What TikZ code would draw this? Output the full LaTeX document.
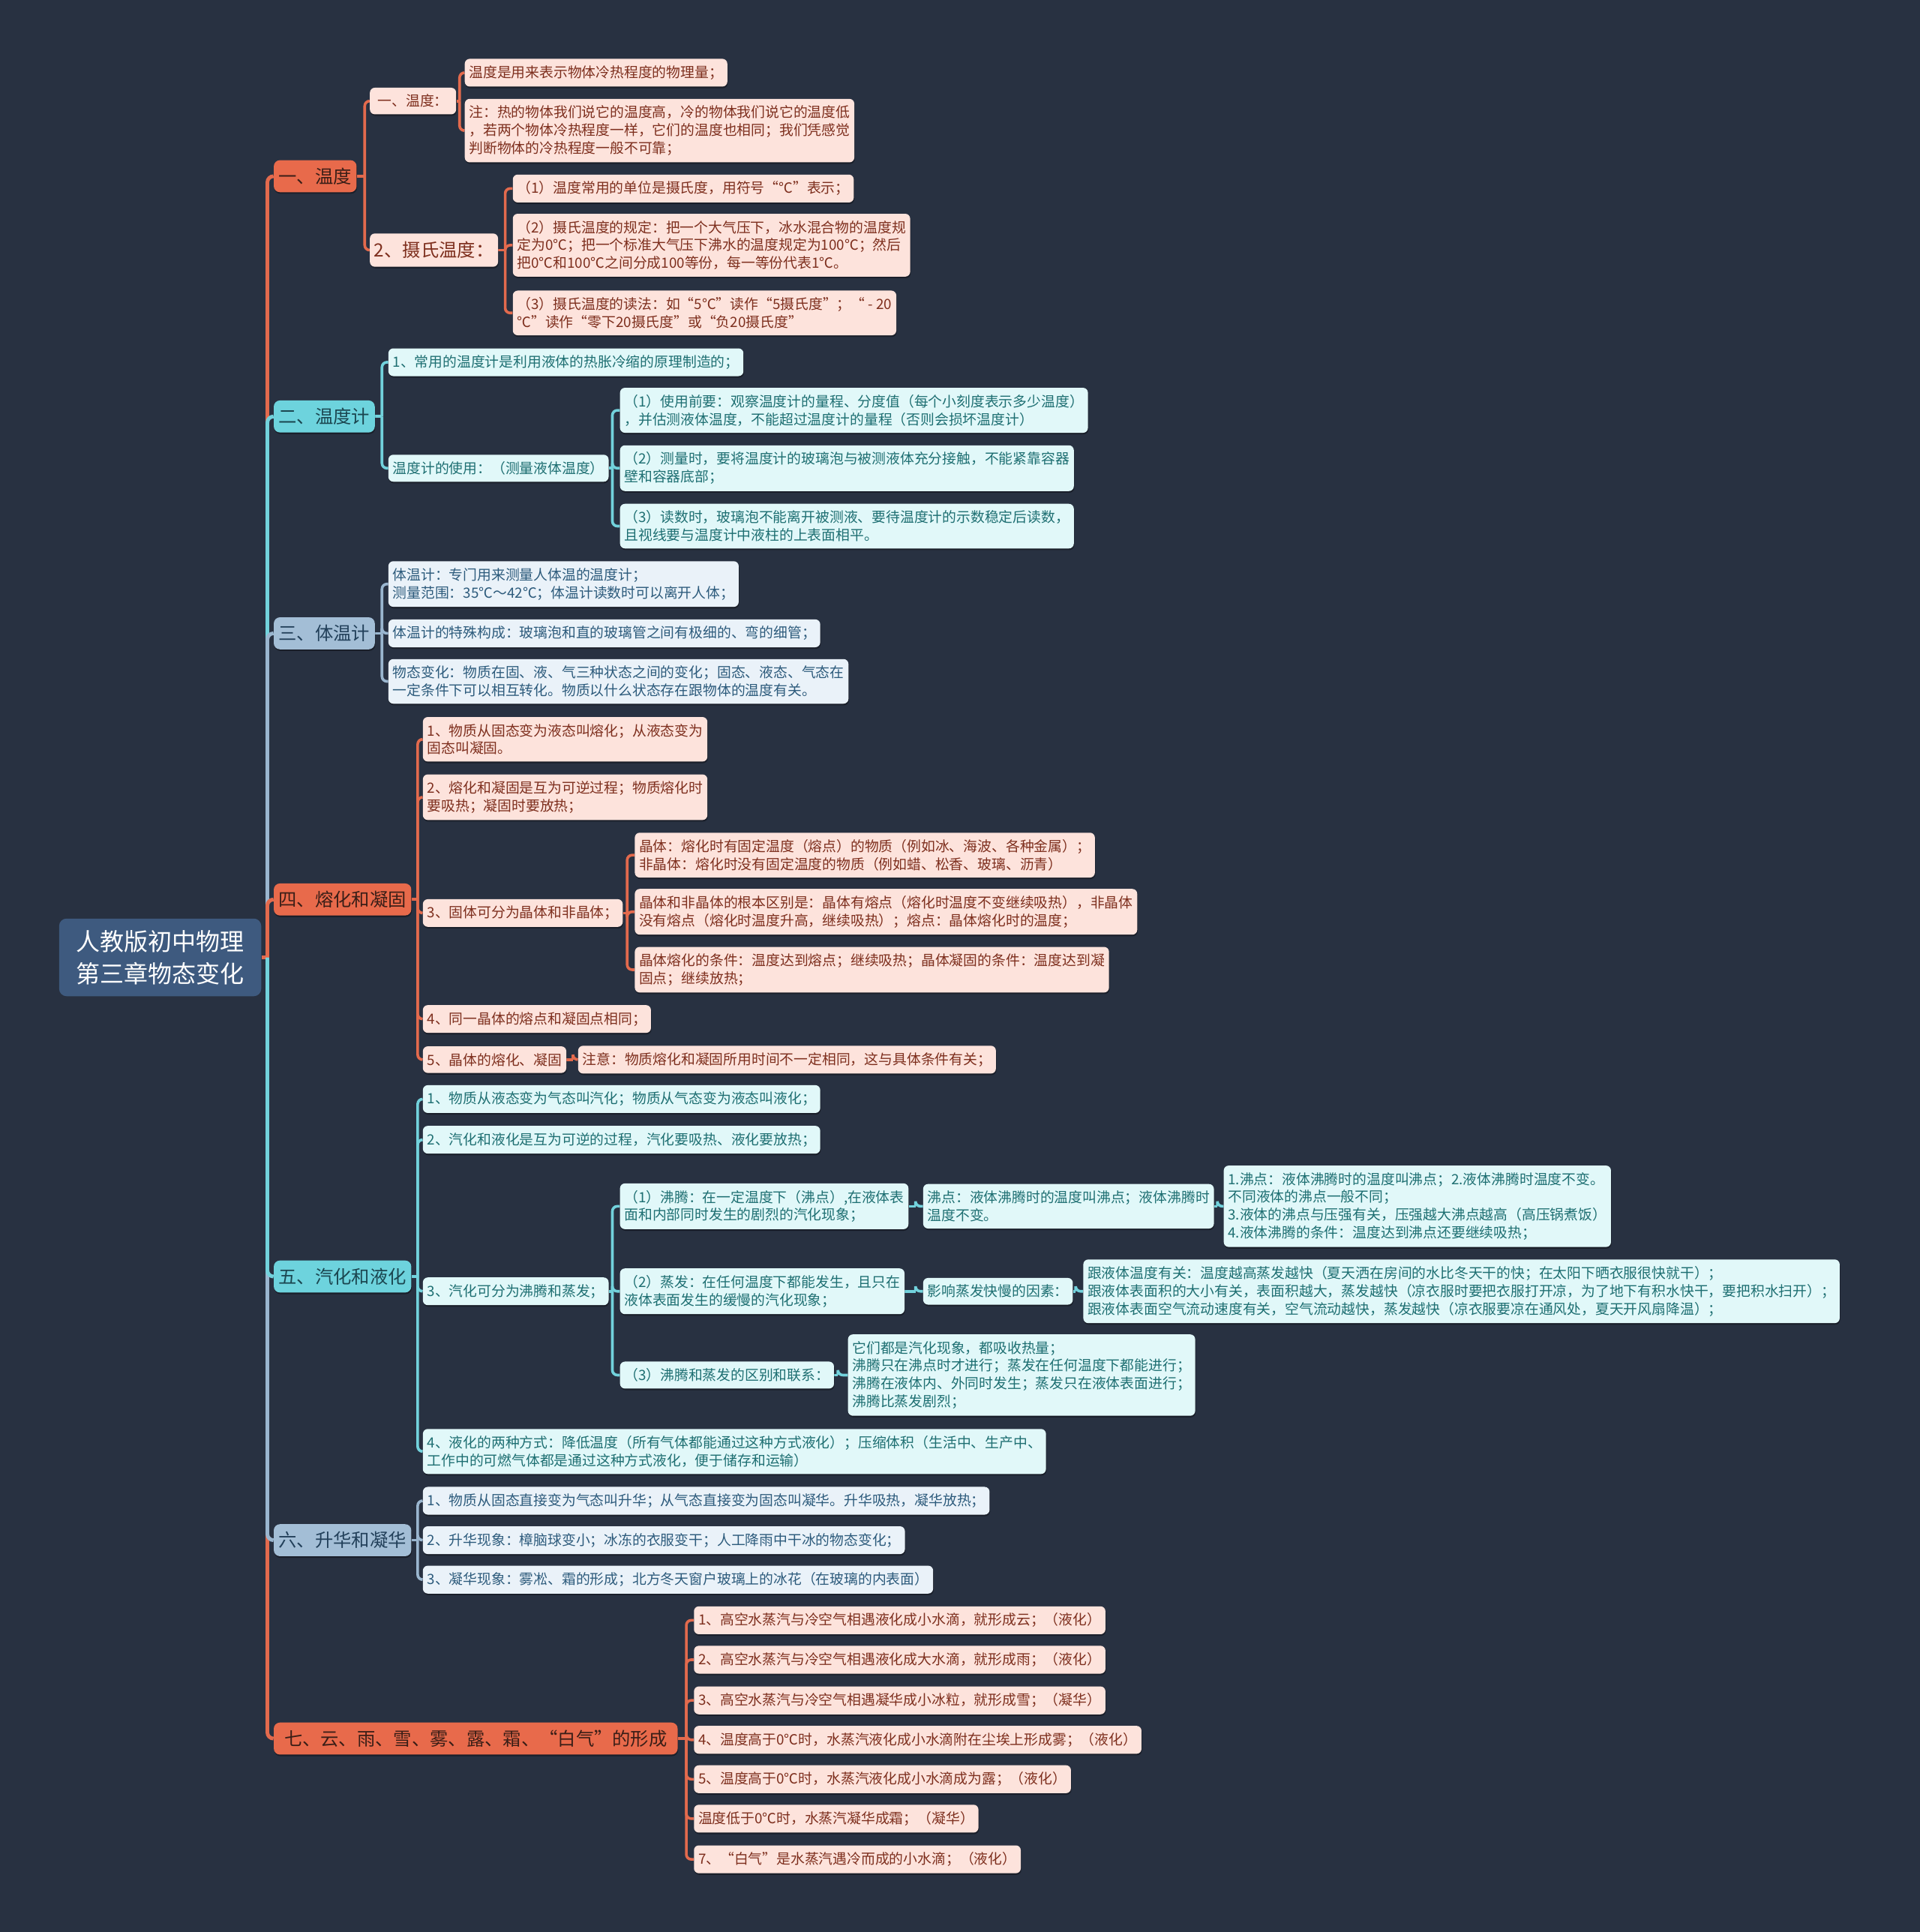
\documentclass[tikz,border=0pt]{standalone}
\usepackage{fontspec}
\setmainfont{Noto Sans CJK SC}
\usetikzlibrary{shadows}
\definecolor{bgc}{HTML}{283141}
\definecolor{rootc}{HTML}{3E5A7F}
\definecolor{oFill}{HTML}{E86A4B}
\definecolor{oLine}{HTML}{E36A4D}
\definecolor{oLeaf}{HTML}{FDE3DC}
\definecolor{oText}{HTML}{7E2F1E}
\definecolor{oBrText}{HTML}{3A1E17}
\definecolor{cFill}{HTML}{6DD3DD}
\definecolor{cLine}{HTML}{72D2DC}
\definecolor{cLeaf}{HTML}{E1F8F9}
\definecolor{cText}{HTML}{1E6F72}
\definecolor{cBrText}{HTML}{1B4650}
\definecolor{bFill}{HTML}{A3BED6}
\definecolor{bLine}{HTML}{9AB6CF}
\definecolor{bLeaf}{HTML}{EAF2F9}
\definecolor{bText}{HTML}{2D5B7C}
\definecolor{bBrText}{HTML}{22405A}
\pgfdeclarelayer{bg}
\pgfsetlayers{bg,main}
\newcommand\lfont{\fontsize{11.45}{14.5}\selectfont}
\newcommand\bfontx{\fontsize{14.8}{18}\selectfont}
\newcommand\rfont{\fontsize{19.5}{26}\selectfont}
\newcommand\fan[5]{%
  \draw[#1] (#2.east) -- (#3,#4);
  \foreach \cc in {#5}{\draw[#1,rounded corners=4pt] (#3,#4) |- (\cc.west);}
}
\tikzset{
  base/.style={anchor=west, align=left, rounded corners=4pt, inner xsep=3.5pt, inner ysep=5.5pt, font=\lfont,
    drop shadow={shadow xshift=0.4pt, shadow yshift=-1.3pt, opacity=0.35, fill=black}},
  lfO/.style={base, fill=oLeaf, text=oText},
  lfC/.style={base, fill=cLeaf, text=cText},
  lfB/.style={base, fill=bLeaf, text=bText},
  brbase/.style={anchor=west, align=left, rounded corners=5pt, inner xsep=4pt, inner ysep=3pt, minimum height=26pt, font=\bfontx,
    drop shadow={shadow xshift=0.4pt, shadow yshift=-1.3pt, opacity=0.35, fill=black}},
  brO/.style={brbase, fill=oFill, text=oBrText},
  brC/.style={brbase, fill=cFill, text=cBrText},
  brB/.style={brbase, fill=bFill, text=bBrText},
  rootbox/.style={fill=rootc, text=white, rounded corners=6pt, align=center, minimum width=164pt, minimum height=63pt, inner sep=0pt, font=\rfont},
  tkO/.style={oLine, line width=3pt},
  tkC/.style={cLine, line width=3pt},
  tkB/.style={bLine, line width=3pt},
  lnO/.style={oLine, line width=2.2pt},
  lnC/.style={cLine, line width=2.2pt},
  lnB/.style={bLine, line width=2.2pt},
}
\begin{document}
\begin{tikzpicture}[x=1pt,y=-1pt]
\useasboundingbox (0,0) rectangle (1558,1568);
\begin{pgfonlayer}{bg}
\fill[bgc] (0,0) rectangle (1558,1568);
\end{pgfonlayer}

% root
\node[rootbox] (root) at (130,777) {人教版初中物理\\第三章物态变化};

% branches
\node[brO] (b1) at (222,143) {一、温度};
\node[brC] (b2) at (222,338) {二、温度计};
\node[brB] (b3) at (222,514) {三、体温计};
\node[brO] (b4) at (222,730) {四、熔化和凝固};
\node[brC] (b5) at (222,1036) {五、汽化和液化};
\node[brB] (b6) at (222,1250) {六、升华和凝华};
\node[brO, inner xsep=8.5pt] (b7) at (222,1411) {七、云、雨、雪、雾、露、霜、“白气”的形成};

% section 1
\node[lfO, minimum width=70pt, inner xsep=4pt] (a1) at (300,82) {一、温度：};
\node[lfO, font=\bfontx, minimum height=27pt, inner ysep=3pt] (a2) at (300,203) {2、摄氏温度：};
\node[lfO] (a11) at (377,59) {温度是用来表示物体冷热程度的物理量；};
\node[lfO] (a12) at (377,106) {注：热的物体我们说它的温度高，冷的物体我们说它的温度低\\，若两个物体冷热程度一样，它们的温度也相同；我们凭感觉\\判断物体的冷热程度一般不可靠；};
\node[lfO] (a21) at (416,153) {（1）温度常用的单位是摄氏度，用符号“℃”表示；};
\node[lfO] (a22) at (416,199) {（2）摄氏温度的规定：把一个大气压下，冰水混合物的温度规\\定为0℃；把一个标准大气压下沸水的温度规定为100℃；然后\\把0℃和100℃之间分成100等份，每一等份代表1℃。};
\node[lfO] (a23) at (416,254) {（3）摄氏温度的读法：如“5℃”读作“5摄氏度”；“ - 20\\℃”读作“零下20摄氏度”或“负20摄氏度”};

% section 2
\node[lfC] (c1) at (315,294) {1、常用的温度计是利用液体的热胀冷缩的原理制造的；};
\node[lfC] (c2) at (315,380) {温度计的使用：（测量液体温度）};
\node[lfC] (c21) at (503,333) {（1）使用前要：观察温度计的量程、分度值（每个小刻度表示多少温度）\\，并估测液体温度，不能超过温度计的量程（否则会损坏温度计）};
\node[lfC] (c22) at (503,380) {（2）测量时，要将温度计的玻璃泡与被测液体充分接触，不能紧靠容器\\壁和容器底部；};
\node[lfC] (c23) at (503,427) {（3）读数时，玻璃泡不能离开被测液、要待温度计的示数稳定后读数，\\且视线要与温度计中液柱的上表面相平。};

% section 3
\node[lfB] (d1) at (315,474) {体温计：专门用来测量人体温的温度计；\\测量范围：35℃～42℃；体温计读数时可以离开人体；};
\node[lfB] (d2) at (315,514) {体温计的特殊构成：玻璃泡和直的玻璃管之间有极细的、弯的细管；};
\node[lfB] (d3) at (315,553) {物态变化：物质在固、液、气三种状态之间的变化；固态、液态、气态在\\一定条件下可以相互转化。物质以什么状态存在跟物体的温度有关。};

% section 4
\node[lfO] (e1) at (343,600) {1、物质从固态变为液态叫熔化；从液态变为\\固态叫凝固。};
\node[lfO] (e2) at (343,647) {2、熔化和凝固是互为可逆过程；物质熔化时\\要吸热；凝固时要放热；};
\node[lfO] (e3) at (343,741) {3、固体可分为晶体和非晶体；};
\node[lfO] (e4) at (343,827) {4、同一晶体的熔点和凝固点相同；};
\node[lfO] (e5) at (343,860) {5、晶体的熔化、凝固};
\node[lfO] (e31) at (515,694) {晶体：熔化时有固定温度（熔点）的物质（例如冰、海波、各种金属）；\\非晶体：熔化时没有固定温度的物质（例如蜡、松香、玻璃、沥青）};
\node[lfO] (e32) at (515,740) {晶体和非晶体的根本区别是：晶体有熔点（熔化时温度不变继续吸热），非晶体\\没有熔点（熔化时温度升高，继续吸热）；熔点：晶体熔化时的温度；};
\node[lfO] (e33) at (515,787) {晶体熔化的条件：温度达到熔点；继续吸热；晶体凝固的条件：温度达到凝\\固点；继续放热；};
\node[lfO] (e51) at (469,860) {注意：物质熔化和凝固所用时间不一定相同，这与具体条件有关；};

% section 5
\node[lfC] (f1) at (343,892) {1、物质从液态变为气态叫汽化；物质从气态变为液态叫液化；};
\node[lfC] (f2) at (343,925) {2、汽化和液化是互为可逆的过程，汽化要吸热、液化要放热；};
\node[lfC] (f3) at (343,1048) {3、汽化可分为沸腾和蒸发；};
\node[lfC] (f4) at (343,1178) {4、液化的两种方式：降低温度（所有气体都能通过这种方式液化）；压缩体积（生活中、生产中、\\工作中的可燃气体都是通过这种方式液化，便于储存和运输）};
\node[lfC] (f31) at (503,979) {（1）沸腾：在一定温度下（沸点）,在液体表\\面和内部同时发生的剧烈的汽化现象；};
\node[lfC] (f32) at (503,1048) {（2）蒸发：在任何温度下都能发生，且只在\\液体表面发生的缓慢的汽化现象；};
\node[lfC] (f33) at (503,1116) {（3）沸腾和蒸发的区别和联系：};
\node[lfC] (f311) at (749,979) {沸点：液体沸腾时的温度叫沸点；液体沸腾时\\温度不变。};
\node[lfC] (f3111) at (993,979) {1.沸点：液体沸腾时的温度叫沸点；2.液体沸腾时温度不变。\\不同液体的沸点一般不同；\\3.液体的沸点与压强有关，压强越大沸点越高（高压锅煮饭）\\4.液体沸腾的条件：温度达到沸点还要继续吸热；};
\node[lfC] (f321) at (749,1048) {影响蒸发快慢的因素：};
\node[lfC] (f3211) at (879,1048) {跟液体温度有关：温度越高蒸发越快（夏天洒在房间的水比冬天干的快；在太阳下晒衣服很快就干）；\\跟液体表面积的大小有关，表面积越大，蒸发越快（凉衣服时要把衣服打开凉，为了地下有积水快干，要把积水扫开）；\\跟液体表面空气流动速度有关，空气流动越快，蒸发越快（凉衣服要凉在通风处，夏天开风扇降温）；};
\node[lfC] (f331) at (688,1116) {它们都是汽化现象，都吸收热量；\\沸腾只在沸点时才进行；蒸发在任何温度下都能进行；\\沸腾在液体内、外同时发生；蒸发只在液体表面进行；\\沸腾比蒸发剧烈；};

% section 6
\node[lfB] (g1) at (343,1218) {1、物质从固态直接变为气态叫升华；从气态直接变为固态叫凝华。升华吸热，凝华放热；};
\node[lfB] (g2) at (343,1250) {2、升华现象：樟脑球变小；冰冻的衣服变干；人工降雨中干冰的物态变化；};
\node[lfB] (g3) at (343,1282) {3、凝华现象：雾凇、霜的形成；北方冬天窗户玻璃上的冰花（在玻璃的内表面）};

% section 7
\node[lfO] (h1) at (563,1315) {1、高空水蒸汽与冷空气相遇液化成小水滴，就形成云；（液化）};
\node[lfO] (h2) at (563,1347) {2、高空水蒸汽与冷空气相遇液化成大水滴，就形成雨；（液化）};
\node[lfO] (h3) at (563,1380) {3、高空水蒸汽与冷空气相遇凝华成小冰粒，就形成雪；（凝华）};
\node[lfO] (h4) at (563,1412) {4、温度高于0℃时，水蒸汽液化成小水滴附在尘埃上形成雾；（液化）};
\node[lfO] (h5) at (563,1444) {5、温度高于0℃时，水蒸汽液化成小水滴成为露；（液化）};
\node[lfO] (h6) at (563,1476) {温度低于0℃时，水蒸汽凝华成霜；（凝华）};
\node[lfO] (h7) at (563,1509) {7、“白气”是水蒸汽遇冷而成的小水滴；（液化）};

% connectors
\begin{pgfonlayer}{bg}
\draw[tkO] (root.east) -- (217,777);
\draw[tkO,rounded corners=5pt] (217,777) |- (b1.west);
\draw[tkO,rounded corners=5pt] (217,777) |- (b7.west);
\draw[tkB,rounded corners=5pt] (217,777) |- (b6.west);
\draw[tkC,rounded corners=5pt] (217,777) |- (b2.west);
\draw[tkB,rounded corners=5pt] (217,777) |- (b3.west);
\draw[tkC,rounded corners=5pt] (217,777) |- (b5.west);
\draw[tkO,rounded corners=5pt] (217,777) |- (b4.west);

\fan{lnO}{b1}{296}{143}{a1,a2}
\fan{lnO}{a1}{373}{82}{a11,a12}
\fan{lnO}{a2}{410}{203}{a21,a22,a23}

\fan{lnC}{b2}{310}{338}{c1,c2}
\fan{lnC}{c2}{497}{380}{c21,c22,c23}

\fan{lnB}{b3}{310}{514}{d1,d2,d3}

\fan{lnO}{b4}{339}{730}{e1,e2,e3,e4,e5}
\fan{lnO}{e3}{509}{741}{e31,e32,e33}
\fan{lnO}{e5}{465}{860}{e51}

\fan{lnC}{b5}{339}{1036}{f1,f2,f3,f4}
\fan{lnC}{f3}{497}{1048}{f31,f32,f33}
\fan{lnC}{f31}{743}{979}{f311}
\fan{lnC}{f311}{988}{979}{f3111}
\fan{lnC}{f32}{743}{1048}{f321}
\fan{lnC}{f321}{873}{1048}{f3211}
\fan{lnC}{f33}{680}{1116}{f331}

\fan{lnB}{b6}{339}{1250}{g1,g2,g3}

\fan{lnO}{b7}{557}{1411}{h1,h2,h3,h4,h5,h6,h7}
\end{pgfonlayer}
\end{tikzpicture}
\end{document}
